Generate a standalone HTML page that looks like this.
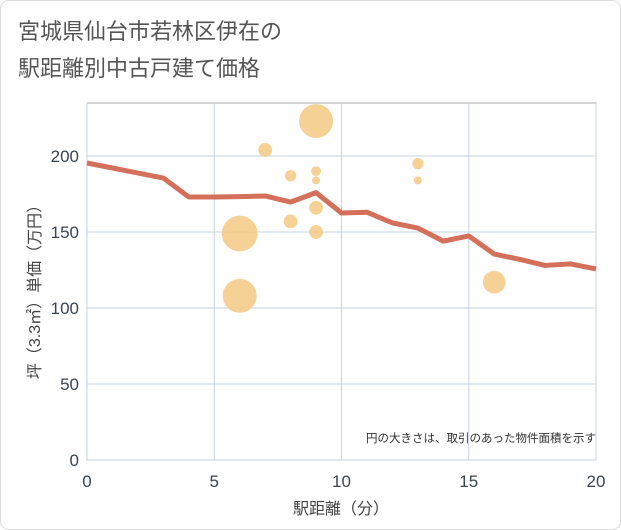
<!DOCTYPE html>
<html><head><meta charset="utf-8"><style>
body{margin:0;background:#fff;font-family:"Liberation Sans","Noto Sans CJK JP",sans-serif}
#wrap{position:relative;width:621px;height:530px;overflow:hidden}
</style></head><body><div id="wrap">
<svg id="c" width="621" height="530" xmlns="http://www.w3.org/2000/svg">
<rect x="0.5" y="0.5" width="620" height="529" rx="8" fill="#fff" stroke="#ddd"/>
<text x="18" y="39" font-size="22" fill="#555">宮城県仙台市若林区伊在の</text>
<text x="18" y="76" font-size="22" fill="#555">駅距離別中古戸建て価格</text>
<g id="grid"></g>
<g id="bub"></g>
<g id="ln"></g>
<g id="ax"></g>
<text x="596" y="442" font-size="11.5" fill="#333" text-anchor="end">円の大きさは、取引のあった物件面積を示す</text>
<text x="341" y="514" font-size="16" fill="#444" text-anchor="middle">駅距離（分）</text>
<text transform="translate(40,288) rotate(-90)" font-size="16" fill="#444" text-anchor="middle">坪（3.3㎡）単価（万円）</text>
</svg></div>
<script>
const xTicks=[0,5,10,15,20];
const yTicks=[0,50,100,150,200];
const lineX=[0,3,4,5,6,7,8,9,10,11,12,13,14,15,16,17,18,19,20];
const lineY=[195.4,185.5,173,173,173.3,173.7,169.7,175.9,162.5,163,156,152.6,144,147.4,135.5,132,128,129,125.7];
const bubX=[9,7,8,9,9,13,13,8,9,9,6,6,16];
const bubY=[223,204,187,190,184,195,184,157,166,150,149,108,117];
const bubSize=[18,3,2,1.5,1,2,1,3,3,3,20,18,8];
const L=87,R=596,T=103,B=460;
const xs=v=>L+(R-L)*v/20, ys=v=>B-(B-156)*v/200;
const NS="http://www.w3.org/2000/svg";
function mk(p,t,a){const e=document.createElementNS(NS,t);for(const k in a)e.setAttribute(k,a[k]);p.appendChild(e);return e;}
const g=document.getElementById('grid'),ax=document.getElementById('ax');
mk(g,'rect',{x:L,y:T,width:R-L,height:B-T,fill:'#fff',stroke:'#aaa'});
xTicks.forEach(t=>{const e=mk(g,'line',{x1:xs(t),x2:xs(t),y1:T,y2:B,stroke:'#c5d3e2'});


const tx=mk(ax,'text',{x:xs(t),y:487,'font-size':17,fill:'#3a4450','text-anchor':'middle'});tx.textContent=t;

});
yTicks.forEach(t=>{const e=mk(g,'line',{x1:L,x2:R,y1:ys(t),y2:ys(t),stroke:'#c5d3e2'});


const tx=mk(ax,'text',{x:79,y:ys(t)+6,'font-size':17,fill:'#3a4450','text-anchor':'end'});tx.textContent=t;

});
const bb=document.getElementById('bub');
bubX.forEach((x,i)=>{const c=mk(bb,'circle',{cx:xs(x),cy:ys(bubY[i]),r:4*Math.sqrt(bubSize[i]),fill:'#f5c983','fill-opacity':0.85});

});
const p=mk(document.getElementById('ln'),'polyline',{points:lineX.map((x,i)=>xs(x)+','+ys(lineY[i])).join(' '),fill:'none',stroke:'#d4705a','stroke-width':5,'stroke-linejoin':'round'});


</script></body></html>
